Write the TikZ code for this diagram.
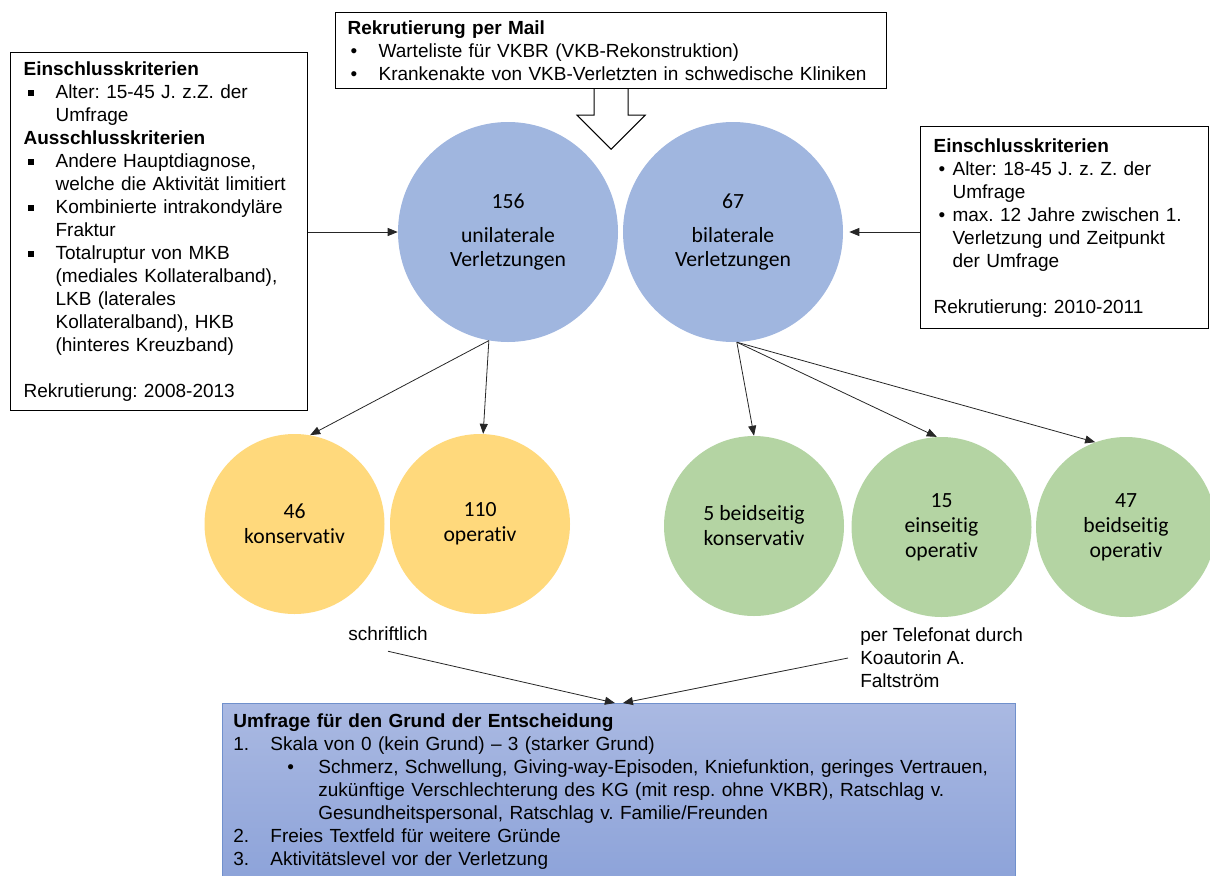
\documentclass[tikz,border=0pt]{standalone}
\usepackage{fontspec}
\setmainfont{Liberation Sans}
\newfontfamily\calfont[RawFeature={-liga;-calt;-clig;-dlig}]{Carlito}
\usetikzlibrary{arrows.meta,calc}
\definecolor{cblue}{HTML}{A0B6DF}
\definecolor{cyellow}{HTML}{FFD97C}
\definecolor{cgreen}{HTML}{B4D4A3}
\definecolor{bbtop}{HTML}{AAB9E2}
\definecolor{bbbot}{HTML}{8DA3D9}
\definecolor{bbdraw}{HTML}{7090CC}
\frenchspacing
\newcommand\bodyfont{\fontsize{14.25pt}{17.25pt}\selectfont\frenchspacing}
\newcommand\sqb{\raisebox{2pt}{\rule{4.1pt}{4.1pt}}}
\tikzset{
  infobox/.style={draw=black, line width=0.9pt, fill=white, anchor=north west, align=left, font=\bodyfont, inner ysep=4pt},
  bigcirc/.style={circle, fill=cblue, minimum size=165pt, inner sep=0pt, align=center, font=\calfont\fontsize{16.25pt}{18pt}\selectfont},
  smallcirc/.style={circle, minimum size=135pt, inner sep=0pt, align=center, font=\calfont\fontsize{16.25pt}{18.75pt}\selectfont},
  ycirc/.style={smallcirc, fill=cyellow},
  gcirc/.style={smallcirc, fill=cgreen},
  arr/.style={draw=black!85, line width=0.6pt, -{Triangle[length=7.5pt,width=6pt]}},
  lbl/.style={font=\bodyfont, align=left}
}
\begin{document}
\begin{tikzpicture}[x=0.75pt,y=-0.75pt]
\useasboundingbox (0,0) rectangle (1210,875);
\clip (0,0) rectangle (1210,875);

% top box
\node[infobox, text width=395.25pt, inner xsep=9pt, minimum height=57pt] (tb) at (335,12)
{\textbf{Rekrutierung per Mail}\\
\hspace*{2.25pt}\makebox[21pt][l]{•}Warteliste für VKBR (VKB-Rekonstruktion)\\
\hspace*{2.25pt}\makebox[21pt][l]{•}Krankenakte von VKB-Verletzten in schwedische Kliniken};
\draw[fill=white, line width=0.8pt] ($(tb.south)+(-17,0)$) -- ++(0,26) -- ++(-17,0)
  -- ($(tb.south)+(0,60)$) -- ($(tb.south)+(34,26)$) -- ++(-17,0) -- ($(tb.south)+(17,0)$);

% left box
\node[infobox, text width=203.25pt, inner xsep=9.75pt, minimum height=268.5pt] (lb) at (10,52)
{\textbf{Einschlusskriterien}\\
\hspace*{3.5pt}\makebox[20.5pt][l]{\sqb}Alter: 15-45 J. z.Z. der\\
\hspace*{24pt}Umfrage\\
\textbf{Ausschlusskriterien}\\
\hspace*{3.5pt}\makebox[20.5pt][l]{\sqb}Andere Hauptdiagnose,\\
\hspace*{24pt}welche die Aktivität limitiert\\
\hspace*{3.5pt}\makebox[20.5pt][l]{\sqb}Kombinierte intrakondyläre\\
\hspace*{24pt}Fraktur\\
\hspace*{3.5pt}\makebox[20.5pt][l]{\sqb}Totalruptur von MKB\\
\hspace*{24pt}(mediales Kollateralband),\\
\hspace*{24pt}LKB (laterales\\
\hspace*{24pt}Kollateralband), HKB\\
\hspace*{24pt}(hinteres Kreuzband)\\[17.25pt]
Rekrutierung: 2008-2013};

% right box
\node[infobox, text width=196.5pt, inner xsep=9.75pt, minimum height=151.5pt] (rb) at (920,126)
{\textbf{Einschlusskriterien}\\
\hspace*{3.75pt}\makebox[10.5pt][l]{•}Alter: 18-45 J. z. Z. der\\
\hspace*{14.25pt}Umfrage\\
\hspace*{3.75pt}\makebox[10.5pt][l]{•}max. 12 Jahre zwischen 1.\\
\hspace*{14.25pt}Verletzung und Zeitpunkt\\
\hspace*{14.25pt}der Umfrage\\[17.25pt]
Rekrutierung: 2010-2011};

% circles
\node[bigcirc] (c1) at (508,232) {156\\[8pt]unilaterale\\Verletzungen};
\node[bigcirc] (c2) at (733,232) {67\\[8pt]bilaterale\\Verletzungen};
\node[ycirc] (y1) at (294.5,524) {46\\konservativ};
\node[ycirc] (y2) at (480,524) {110\\operativ};
\node[gcirc] (g1) at (754,526) {5 beidseitig\\konservativ};
\node[gcirc] (g2) at (941.5,527) {15\\einseitig\\operativ};
\node[gcirc] (g3) at (1126,527) {47\\beidseitig\\operativ};

% labels
\node[lbl, inner xsep=0pt, inner ysep=7.5pt] (sl) at (388,634) {schriftlich};
\node[lbl, anchor=west, inner xsep=9pt, inner ysep=0pt] (tel) at (848,658)
  {per Telefonat durch\\Koautorin A.\\Faltström};

% bottom box
\node[draw=bbdraw, line width=0.6pt, top color=bbtop, bottom color=bbbot, anchor=north west,
  align=left, font=\bodyfont, text width=578.25pt, inner xsep=8.25pt, inner ysep=7.5pt] (bb) at (222,703)
{\textbf{Umfrage für den Grund der Entscheidung}\\
\makebox[27.75pt][l]{1.}Skala von 0 (kein Grund) – 3 (starker Grund)\\
\hspace*{40.5pt}\makebox[23.25pt][l]{•}Schmerz, Schwellung, Giving-way-Episoden, Kniefunktion, geringes Vertrauen,\\
\hspace*{63.75pt}zukünftige Verschlechterung des KG (mit resp. ohne VKBR), Ratschlag v.\\
\hspace*{63.75pt}Gesundheitspersonal, Ratschlag v. Familie/Freunden\\
\makebox[27.75pt][l]{2.}Freies Textfeld für weitere Gründe\\
\makebox[27.75pt][l]{3.}Aktivitätslevel vor der Verletzung};

% connectors
\draw[arr] (c1.west -| lb.east) -- (c1.west);
\draw[arr] (c2.east -| rb.west) -- ([xshift=4.5pt]c2.east);
\draw[arr] (c1.-100) -- (y1.80);
\draw[arr] (c1.-100) -- (y2.88);
\draw[arr] (c2.-88) -- (g1.north);
\draw[arr] (c2.-88) -- (g2.93);
\draw[arr] (c2.-88) -- (g3.110);
\draw[arr] (sl.south) -- ([xshift=-3pt]bb.north);
\draw[arr] (tel.west) -- ([xshift=3pt]bb.north);
\end{tikzpicture}
\end{document}
